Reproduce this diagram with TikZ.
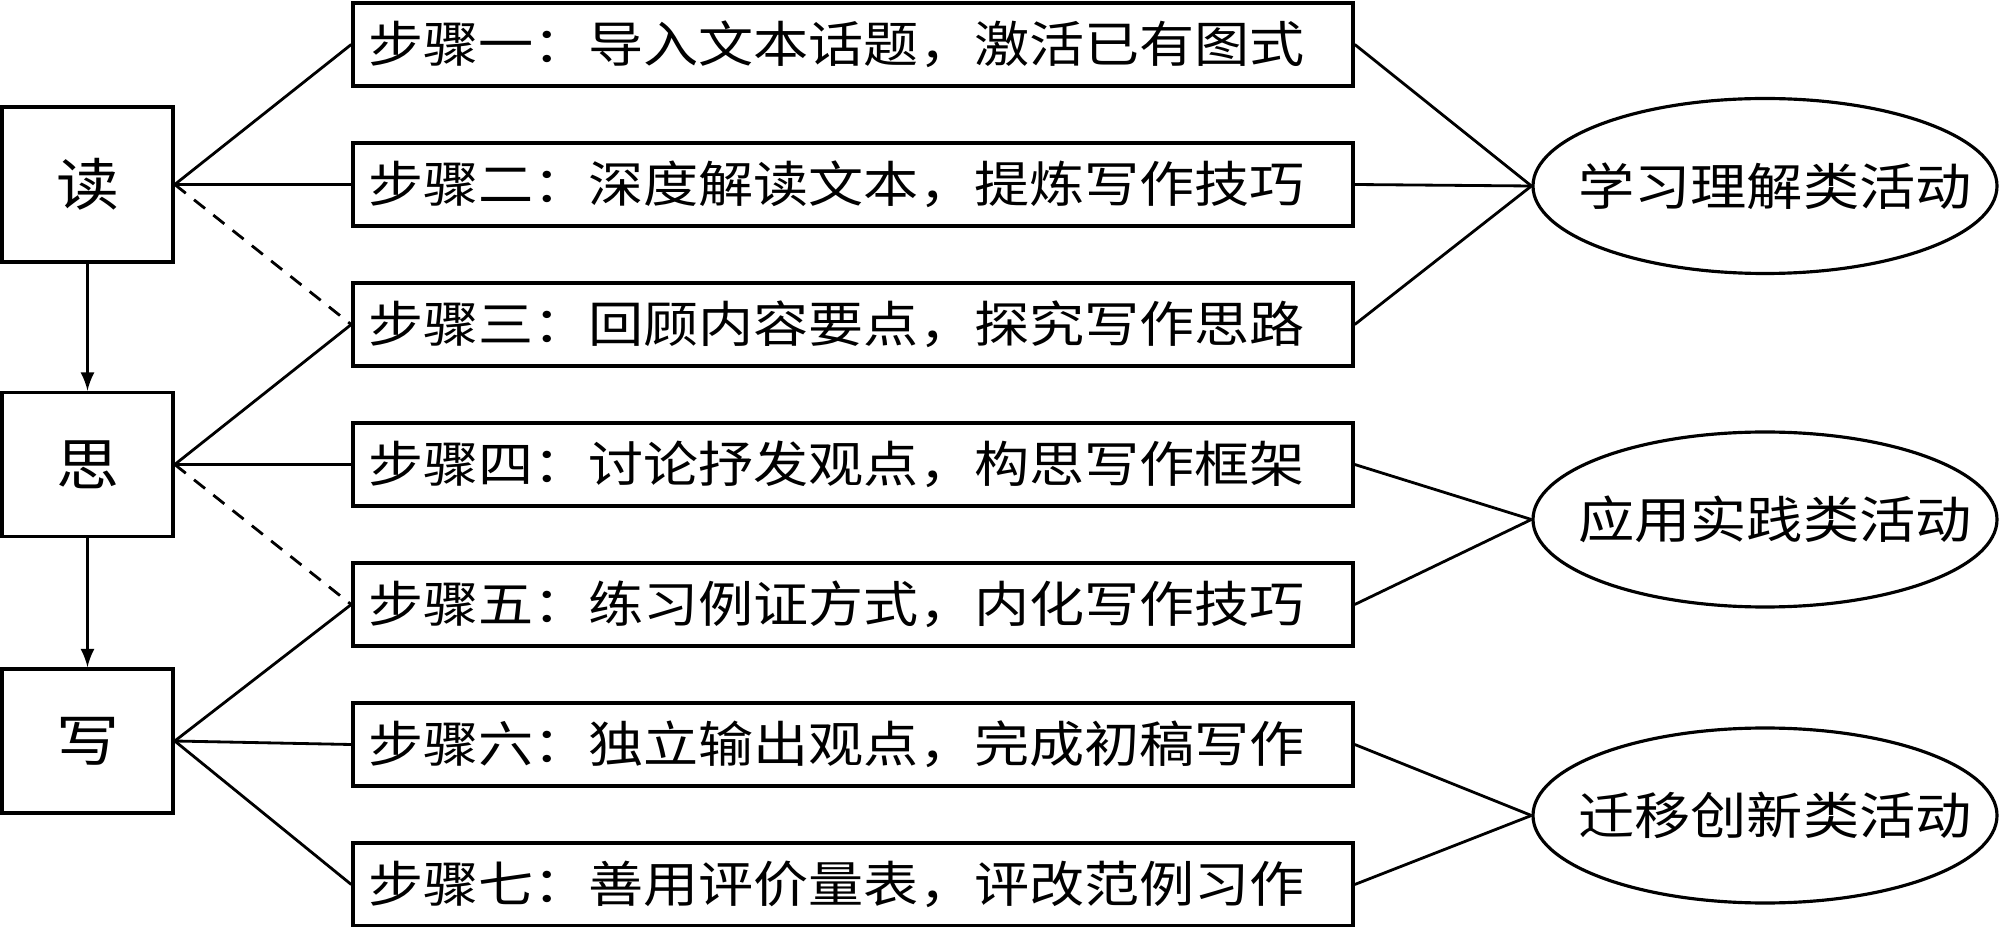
\documentclass[tikz,border=0pt]{standalone}
\usepackage{fontspec}
\setmainfont{Noto Sans CJK SC}[FakeStretch=1.12]
\usetikzlibrary{shapes.geometric}
\tikzset{
  kuang/.style={draw,line width=1pt,minimum width=1.71cm,minimum height=1.44cm,font=\fontsize{16}{16}\selectfont},
  buzhou/.style={draw,line width=1pt,minimum width=10cm,minimum height=0.83cm,text width=9.7cm,inner xsep=0.15cm,align=left,font=\fontsize{14}{14}\selectfont},
  huodong/.style={draw,ellipse,line width=0.9pt,minimum width=4.64cm,minimum height=1.75cm,inner sep=0pt,font=\fontsize{14.3}{14.3}\selectfont},
  xian/.style={line width=0.8pt},
  xuxian/.style={line width=0.8pt,dash pattern=on 4pt off 3pt}
}
\begin{document}
\begin{tikzpicture}
    \useasboundingbox (0,0) rectangle (20,-9.27);
    % du si xie
    \node[kuang,minimum height=1.55cm] (du) at (0.875,-1.845) {读};
    \node[kuang] (si) at (0.875,-4.645) {思};
    \node[kuang] (xie) at (0.875,-7.41) {写};
    \draw[xian,-latex] (du)--(si);
    \draw[xian,-latex] (si)--(xie);
    % seven steps
    \foreach \t [count=\i] in {步骤一：导入文本话题，激活已有图式,
        步骤二：深度解读文本，提炼写作技巧,
        步骤三：回顾内容要点，探究写作思路,
        步骤四：讨论抒发观点，构思写作框架,
        步骤五：练习例证方式，内化写作技巧,
        步骤六：独立输出观点，完成初稿写作,
        步骤七：善用评价量表，评改范例习作}
        \node[buzhou] (s\i) at (8.53,{-0.445-1.4*(\i-1)}) {\t};
    % activities
    \node[huodong] (e1) at (17.65,-1.86) {\makebox[0pt]{\hspace{0.2cm}学习理解类活动}};
    \node[huodong] (e2) at (17.65,-5.195) {\makebox[0pt]{\hspace{0.2cm}应用实践类活动}};
    \node[huodong] (e3) at (17.65,-8.155) {\makebox[0pt]{\hspace{0.2cm}迁移创新类活动}};
    \draw[xian] (du.east)--(s1.west);
    \draw[xian] (du.east)--(s2.west);
    \draw[xuxian] (du.east)--(s3.west);
    \draw[xian] (si.east)--(s3.west);
    \draw[xian] (si.east)--(s4.west);
    \draw[xuxian] (si.east)--(s5.west);
    \draw[xian] (xie.east)--(s5.west);
    \draw[xian] (xie.east)--(s6.west);
    \draw[xian] (xie.east)--(s7.west);
    \foreach \i in {1,2,3} \draw[xian] (s\i.east)--(e1.west);
    \foreach \i in {4,5} \draw[xian] (s\i.east)--(e2.west);
    \foreach \i in {6,7} \draw[xian] (s\i.east)--(e3.west);
\end{tikzpicture}
\end{document}
